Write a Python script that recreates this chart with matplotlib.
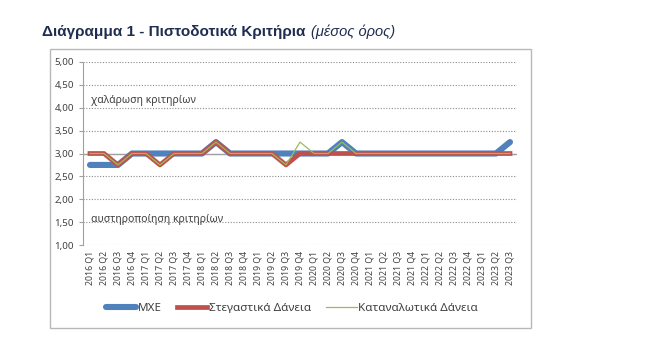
import matplotlib
matplotlib.use("Agg")
import matplotlib.pyplot as plt
from matplotlib.patches import Rectangle
from matplotlib.ticker import FuncFormatter

plt.rcParams['font.family'] = ['Noto Sans', 'DejaVu Sans']

# --- data ---
quarters = [f"{y} Q{q}" for y in range(2016, 2024) for q in range(1, 5)][:31]

mxe = [2.75, 2.75, 2.75, 3.00,
       3.00, 3.00, 3.00, 3.00,
       3.00, 3.25, 3.00, 3.00,
       3.00, 3.00, 3.00, 3.00,
       3.00, 3.00, 3.25, 3.00,
       3.00, 3.00, 3.00, 3.00,
       3.00, 3.00, 3.00, 3.00,
       3.00, 3.00, 3.25]
housing = [3.00, 3.00, 2.75, 3.00,
           3.00, 2.75, 3.00, 3.00,
           3.00, 3.25, 3.00, 3.00,
           3.00, 3.00, 2.75, 3.00,
           3.00, 3.00, 3.00, 3.00,
           3.00, 3.00, 3.00, 3.00,
           3.00, 3.00, 3.00, 3.00,
           3.00, 3.00, 3.00]
consumer = [3.00, 3.00, 2.75, 3.00,
            3.00, 2.75, 3.00, 3.00,
            3.00, 3.25, 3.00, 3.00,
            3.00, 3.00, 2.75, 3.25,
            3.00, 3.00, 3.25, 3.00,
            3.00, 3.00, 3.00, 3.00,
            3.00, 3.00, 3.00, 3.00,
            3.00, 3.00, 3.00]

W, H = 659, 364
fig = plt.figure(figsize=(W / 100, H / 100), dpi=100)

# outer chart frame
fig.patches.append(Rectangle((50 / W, 1 - 328 / H), 481 / W, 279 / H,
                             transform=fig.transFigure, fill=False,
                             edgecolor="#b8b8b8", linewidth=1.0))

ax = fig.add_axes([83 / W, 1 - 245 / H, 434 / W, 183 / H])
x = list(range(len(quarters)))

ax.plot(x, mxe, color="#4F81BD", lw=4.4, solid_capstyle="round", label="ΜΧΕ", zorder=3)
ax.plot(x, housing, color="#C0504D", lw=3.4, label="Στεγαστικά Δάνεια", zorder=4)
ax.plot(x, consumer, color="#9BBB59", lw=0.9, label="Καταναλωτικά Δάνεια", zorder=5)

ax.axhline(3.0, color="#a0a0a0", lw=1.0, zorder=2)

ax.set_xlim(-0.5, len(quarters) - 0.5)
ax.set_ylim(1.0, 5.0)
ax.set_yticks([1 + 0.5 * i for i in range(9)])
ax.yaxis.set_major_formatter(FuncFormatter(lambda v, p: f"{v:.2f}".replace(".", ",")))
ax.grid(axis="y", linestyle=(0, (1, 1.5)), color="#8c8c8c", lw=0.8)
ax.set_axisbelow(True)

ax.set_xticks(x)
ax.set_xticklabels(quarters, rotation=90, fontsize=6.3, color="#404040")
ax.tick_params(axis="x", length=0, pad=4)
ax.tick_params(axis="y", labelsize=7, colors="#404040", length=3, color="#a0a0a0")

for s in ["top", "right", "bottom"]:
    ax.spines[s].set_visible(False)
ax.spines["left"].set_color("#a0a0a0")

ax.text(0.1, 4.15, "χαλάρωση κριτηρίων", fontsize=7.5, color="#404040", va="center")
ax.text(0.1, 1.55, "αυστηροποίηση κριτηρίων", fontsize=7.5, color="#404040", va="center")

fig.legend(loc="center", bbox_to_anchor=(292 / W, 1 - 308 / H), ncol=3,
           frameon=False, fontsize=8.4, handlelength=2.6, handletextpad=0.15,
           columnspacing=1.3, labelcolor="#404040")

# title: bold part followed by italic part
t1 = fig.text(42 / W, 1 - 32 / H, "Διάγραμμα 1 - Πιστοδοτικά Κριτήρια", fontsize=11,
              fontweight="bold", color="#1F2D50", family="Liberation Sans", va="center")
fig.canvas.draw()
bb = t1.get_window_extent()
fig.text((bb.x1 + 6) / W, 1 - 32 / H, "(μέσος όρος)", fontsize=10.5, style="italic",
         color="#1F2D50", family="Liberation Sans", va="center")

fig.savefig("out.png", dpi=100)
